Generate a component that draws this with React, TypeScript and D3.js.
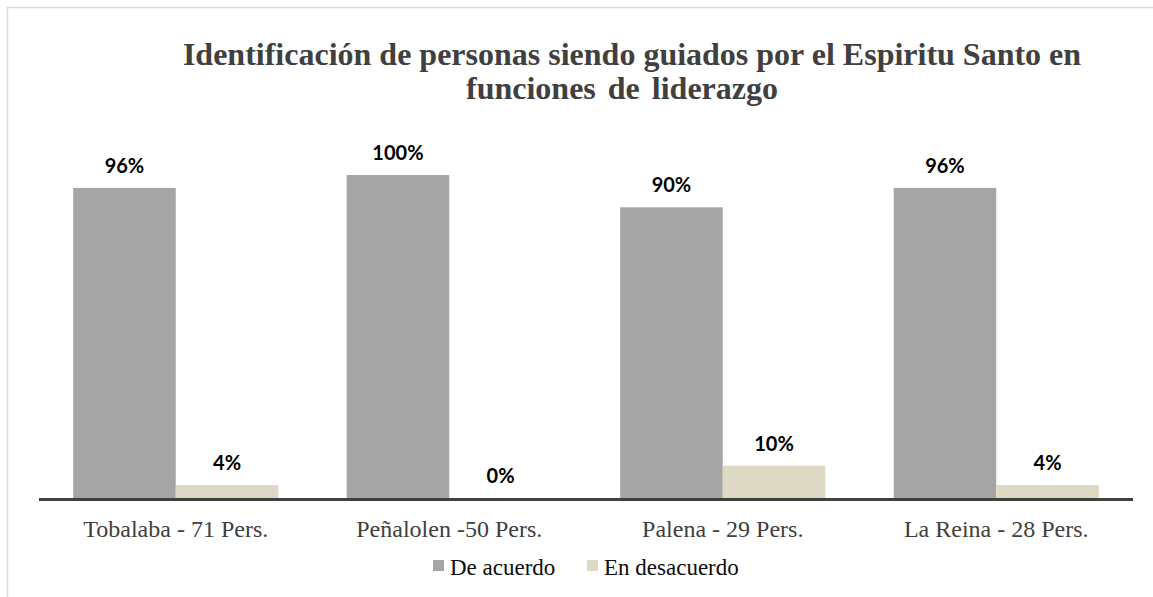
import React from "react";
import * as d3 from "d3";

const categories = [
  "Tobalaba - 71 Pers.",
  "Peñalolen -50 Pers.",
  "Palena - 29 Pers.",
  "La Reina - 28 Pers.",
];
const seriesNames = ["De acuerdo", "En desacuerdo"];
const deAcuerdo = [0.96, 1.0, 0.9, 0.96];
const enDesacuerdo = [0.04, 0.0, 0.1, 0.04];
const titleLines = [
  "Identificación de personas siendo guiados por el Espiritu Santo en",
  "funciones de liderazgo",
];
const colors = ["#a5a5a5", "#ddd9c4"];

const W = 1153;
const H = 597;
const left = 39;
const right = 1133;
const baseY = 498;
const topY = 175;

export default function App() {
  const x0 = d3
    .scaleBand<string>()
    .domain(categories)
    .range([left, right])
    .paddingInner(0.25)
    .paddingOuter(0.125);
  const x1 = d3
    .scaleBand<string>()
    .domain(seriesNames)
    .range([0, x0.bandwidth()])
    .padding(0);
  const y = d3.scaleLinear().domain([0, 1]).range([baseY, topY]);
  const fmt = d3.format(".0%");
  const series = [deAcuerdo, enDesacuerdo];
  const titleX = [632, 622];

  return (
    <svg
      width={W}
      height={H}
      style={{ position: "absolute", left: 0, top: 0, background: "#fff" }}
    >
      <rect x={0} y={0} width={W} height={H} fill="#fff" />
      <path d={`M7.5,${H} V7.5 H${W}`} fill="none" stroke="#d9d9d9" strokeWidth={1.5} />
      <text
        textAnchor="middle"
        fontFamily="'Liberation Serif', 'Times New Roman', serif"
        fontWeight="bold"
        fontSize={32}
        fill="#404040"
      >
        {titleLines.map((t, i) => (
          <tspan key={i} x={titleX[i]} y={65 + i * 34} wordSpacing={i === 1 ? 4 : 0}>
            {t}
          </tspan>
        ))}
      </text>
      {categories.map((c, ci) => (
        <g key={c} transform={`translate(${x0(c)},0)`}>
          {seriesNames.map((s, si) => {
            const v = series[si][ci];
            const bx = x1(s)!;
            return (
              <g key={s}>
                <rect
                  x={bx}
                  y={y(v)}
                  width={x1.bandwidth()}
                  height={baseY - y(v)}
                  fill={colors[si]}
                />
                <text
                  x={bx + x1.bandwidth() / 2}
                  y={y(v) - 22}
                  dy="0.35em"
                  textAnchor="middle"
                  fontFamily="Lato, 'Open Sans', sans-serif"
                  fontWeight="bold"
                  fontSize={20}
                  fill="#000"
                >
                  {fmt(v)}
                </text>
              </g>
            );
          })}
          <text
            x={x0.bandwidth() / 2}
            y={537}
            textAnchor="middle"
            fontFamily="'Liberation Serif', 'Times New Roman', serif"
            fontSize={24}
            fill="#404040"
          >
            {c}
          </text>
        </g>
      ))}
      <line x1={left} x2={right} y1={499.5} y2={499.5} stroke="#404040" strokeWidth={3} />
      {seriesNames.map((s, i) => (
        <g key={s} transform={`translate(${433 + i * 154},0)`}>
          <rect x={0} y={560} width={11} height={11} fill={colors[i]} />
          <text
            x={17}
            y={575}
            fontFamily="'Liberation Serif', 'Times New Roman', serif"
            fontSize={23}
            fill="#0d0d0d"
          >
            {s}
          </text>
        </g>
      ))}
    </svg>
  );
}
